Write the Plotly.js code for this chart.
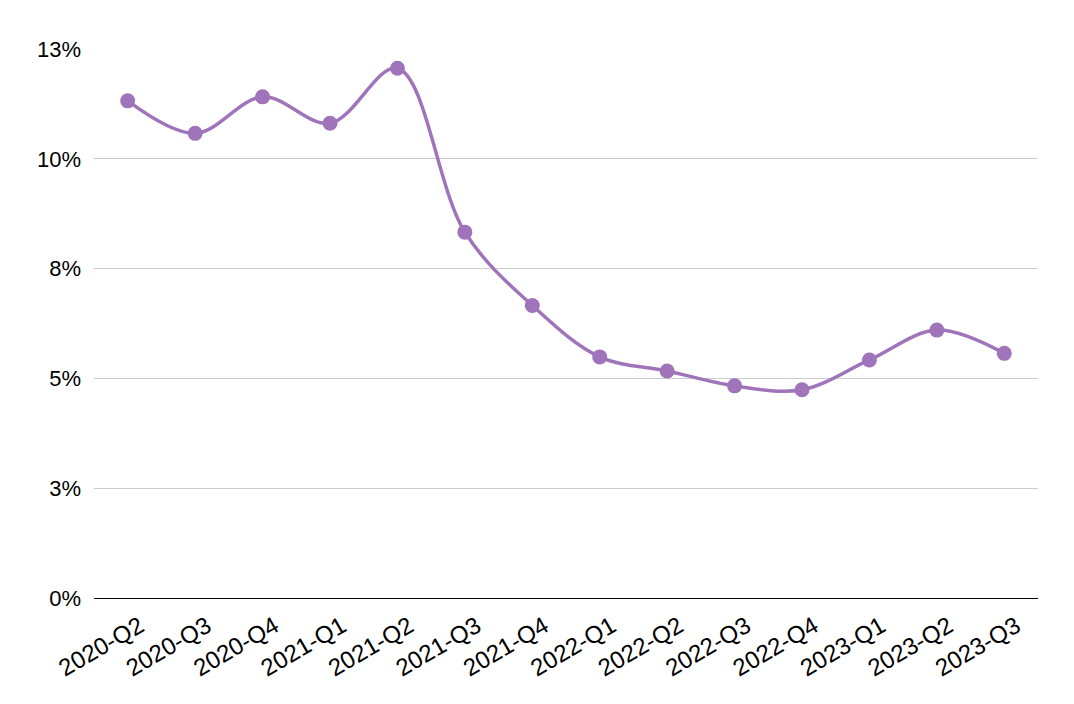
<!DOCTYPE html>
<html>
<head>
<meta charset="utf-8">
<script src="https://cdn.plot.ly/plotly-3.0.1.min.js"></script>
<style>html,body{margin:0;padding:0;background:#fff;}#chart{width:1074px;height:704px;}</style>
</head>
<body>
<div id="chart"></div>
<script>
const quarters = ["2020-Q2","2020-Q3","2020-Q4","2021-Q1","2021-Q2","2021-Q3","2021-Q4","2022-Q1","2022-Q2","2022-Q3","2022-Q4","2023-Q1","2023-Q2","2023-Q3"];
const rates = [11.32, 10.58, 11.41, 10.81, 12.06, 8.33, 6.66, 5.49, 5.17, 4.83, 4.74, 5.42, 6.10, 5.57];
const yTickVals = [0, 2.5, 5, 7.5, 10, 12.5];
const yTickText = ["0%", "3%", "5%", "8%", "10%", "13%"];

Plotly.newPlot('chart', [{
  x: quarters,
  y: rates,
  type: 'scatter',
  mode: 'lines+markers',
  line: {color: '#a074bb', width: 3.5, shape: 'spline', smoothing: 1},
  marker: {color: '#a074bb', size: 15},
  hoverinfo: 'skip'
}], {
  width: 1074, height: 704,
  margin: {l: 94, r: 36, t: 49, b: 106},
  paper_bgcolor: '#fff', plot_bgcolor: '#fff',
  showlegend: false,
  font: {family: 'Liberation Sans, Arial, sans-serif', size: 22, color: '#000'},
  xaxis: {
    type: 'category',
    range: [-0.5, 13.5],
    tickangle: -30,
    showgrid: false,
    showline: true, linecolor: '#000', linewidth: 1,
    ticks: '', zeroline: false,
    ticklabelshift: 12,
    ticklabelstandoff: 4,
    tickfont: {size: 24, color: '#000'}
  },
  yaxis: {
    range: [0, 12.5],
    tickvals: yTickVals,
    ticktext: yTickText,
    showgrid: true, gridcolor: '#cccccc', gridwidth: 1,
    zeroline: false, showline: false, ticks: '',
    ticklabelstandoff: 12,
    tickfont: {size: 22, color: '#000'}
  }
}, {displayModeBar: false, staticPlot: true});
</script>
</body>
</html>
